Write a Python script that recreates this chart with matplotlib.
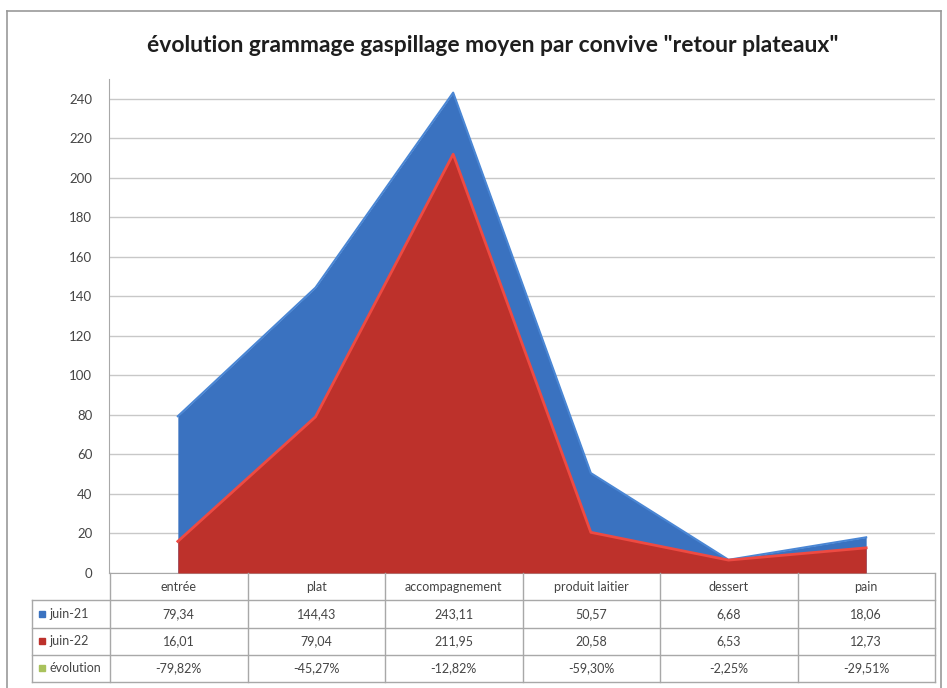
import numpy as np
import matplotlib.pyplot as plt
from matplotlib.lines import Line2D

categories = ['entrée', 'plat', 'accompagnement', 'produit laitier', 'dessert', 'pain']
juin21 = [79.34, 144.43, 243.11, 50.57, 6.68, 18.06]
juin22 = [16.01, 79.04, 211.95, 20.58, 6.53, 12.73]
evolution = [-79.82, -45.27, -12.82, -59.30, -2.25, -29.51]
series_names = ['juin-21', 'juin-22', 'évolution']
yticks = list(range(0, 241, 20))

title = 'évolution grammage gaspillage moyen par convive "retour plateaux"'

blue = '#3a72c0'
blue_edge = '#4a86d4'
red = '#bd312b'
red_edge = '#ee4a42'
green = '#a9c25c'
grid_col = '#c8c8c8'
line_col = '#a8a8a8'
text_col = '#454545'


def fr(v, pct=False):
    s = f"{v:.2f}".replace('.', ',')
    return s + '%' if pct else s


plt.rcParams['font.family'] = ['Lato', 'DejaVu Sans']

W, H = 947, 688
fig = plt.figure(figsize=(W / 100, H / 100), dpi=100)


def box(x0, y0, x1, y1):
    # pixel box -> figure fraction
    return [x0 / W, 1 - y1 / H, (x1 - x0) / W, (y1 - y0) / H]


# outer chart frame
for xs, ys in [([7, 7], [11, H]), ([7, 941], [11, 11]), ([941, 941], [11, H])]:
    fig.add_artist(Line2D([x / W for x in xs], [1 - y / H for y in ys],
                          color='#999999', lw=1.2))

fig.text(493 / W, 1 - 46 / H, title, ha='center', va='center',
         fontsize=16.5, fontweight='bold', color='#1e1e1e')

# area chart
ax = fig.add_axes(box(109, 79, 935, 573))
x = np.arange(len(categories))
ax.fill_between(x, juin21, color=blue, lw=0, zorder=2)
ax.plot(x, juin21, color=blue_edge, lw=1.5, zorder=2.5)
ax.fill_between(x, juin22, color=red, lw=0, zorder=3)
ax.plot(x, juin22, color=red_edge, lw=2, zorder=3.5)

ax.set_xlim(-0.5, 5.5)
ax.set_ylim(0, 250)
ax.set_yticks(yticks)
ax.set_xticks([])
ax.yaxis.grid(True, color=grid_col, lw=1)
ax.set_axisbelow(True)
for s in ['top', 'right']:
    ax.spines[s].set_visible(False)
ax.spines['left'].set_color(line_col)
ax.spines['bottom'].set_color(line_col)
ax.tick_params(axis='y', length=0, pad=12, labelsize=9.5, labelcolor=text_col)

# data table below the plot
lab_w = 78 / 137.5
tb = fig.add_axes(box(32, 573, 935, 682))
tb.set_xlim(-0.5 - lab_w, 5.5)
tb.set_ylim(4, 0)
tb.axis('off')

x_left = -0.5 - lab_w
for r in range(1, 5):
    tb.plot([x_left, 5.5], [r, r], color=line_col, lw=1, clip_on=False)
for k in range(7):
    tb.plot([k - 0.5, k - 0.5], [0, 4], color=line_col, lw=1, clip_on=False)
tb.plot([x_left, x_left], [1, 4], color=line_col, lw=1, clip_on=False)

for i, c in enumerate(categories):
    tb.text(i, 0.5, c, ha='center', va='center', fontsize=9, color=text_col)
    tb.text(i, 1.5, fr(juin21[i]), ha='center', va='center', fontsize=9, color=text_col)
    tb.text(i, 2.5, fr(juin22[i]), ha='center', va='center', fontsize=9, color=text_col)
    tb.text(i, 3.5, fr(evolution[i], pct=True), ha='center', va='center',
            fontsize=9, color=text_col)

for r, (name, col) in enumerate(zip(series_names, [blue, red, green])):
    tb.plot(x_left + 0.07, r + 1.5, marker='s', ms=5, color=col, clip_on=False)
    tb.text(x_left + 0.13, r + 1.5, name, ha='left', va='center',
            fontsize=9, color=text_col)

fig.savefig('out.png', dpi=100)
